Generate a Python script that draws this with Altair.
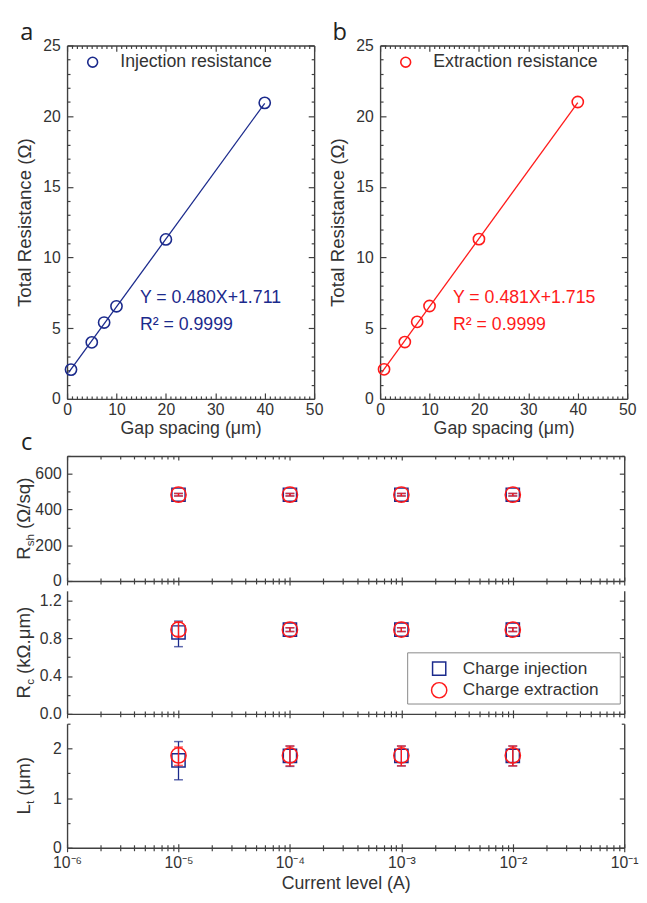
import altair as alt
import pandas as pd

# ---------------- data ----------------
gap_um = [0.8, 5, 7.5, 10, 20, 40]
inj_res = [2.07, 4.0, 5.4, 6.55, 11.28, 20.94]
ext_res = [2.09, 4.02, 5.45, 6.57, 11.3, 21.0]
fit_x = [0.3, 40]
fit_inj = [1.855, 20.911]
fit_ext = [1.859, 20.955]
fit_inj_text = ["Y = 0.480X+1.711", "R² = 0.9999"]
fit_ext_text = ["Y = 0.481X+1.715", "R² = 0.9999"]

current = [1e-5, 1e-4, 1e-3, 1e-2]
rsh_inj = [483, 483, 483, 483]
rsh_inj_lo = [476, 476, 476, 476]
rsh_inj_hi = [490, 490, 490, 490]
rsh_ext = [483, 483, 483, 483]
rsh_ext_lo = [476, 476, 476, 476]
rsh_ext_hi = [490, 490, 490, 490]

rc_inj = [0.86, 0.89, 0.89, 0.89]
rc_inj_lo = [0.71, 0.87, 0.87, 0.87]
rc_inj_hi = [0.98, 0.91, 0.91, 0.91]
rc_ext = [0.89, 0.89, 0.89, 0.89]
rc_ext_lo = [0.82, 0.87, 0.87, 0.87]
rc_ext_hi = [0.97, 0.91, 0.91, 0.91]

lt_inj = [1.76, 1.85, 1.85, 1.85]
lt_inj_lo = [1.37, 1.64, 1.65, 1.65]
lt_inj_hi = [2.14, 2.05, 2.05, 2.05]
lt_ext = [1.86, 1.86, 1.86, 1.86]
lt_ext_lo = [1.66, 1.65, 1.65, 1.65]
lt_ext_hi = [2.03, 2.05, 2.05, 2.05]

# ---------------- style ----------------
FONT = "Liberation Sans"
BLUE = "#1b2a8c"
RED = "#ff1a1a"
FRAME = "#404040"
LABEL = "#333333"

TOP_W, TOP_H = 251, 359
BOT_W = 566
BOT_H = [127, 125, 126]

CW = {"R": .722, "L": .556, "s": .5, "h": .556, "c": .5, "t": .278, " ": .278,
      "(": .333, ")": .333, "Ω": .768, "/": .278, "q": .556, "k": .5, ".": .278,
      "μ": .576, "m": .833}


def tw(s, size):
    return sum(CW.get(ch, .55) for ch in s) * size


def cond(test, big, small):
    return {"condition": {"test": test, "value": big}, "value": small}


def ax(**kw):
    base = dict(grid=False, domainColor=FRAME, domainWidth=1.4, tickColor=FRAME,
                tickWidth=1.2, labelFont=FONT, labelColor=LABEL, titleFont=FONT,
                titleColor=LABEL, titleFontWeight="normal", labelFlush=False,
                labelOverlap=False)
    base.update({k: v for k, v in kw.items() if v is not None or k == "title"})
    return alt.Axis(**base)


def frame_layers(df, xf, yf, xs, ys, W, H, xv, yv, xtest, ytest, xlab, ylab,
                 xtitle, ytitle, xlabels, top_line, out_ticks, tk, lab_size,
                 title_size, xlab_pad, ylab_pad, xtitle_pad, ytitle_pad,
                 yformat=None, xtk=None, xtitle_size=None):
    big, small = tk
    xbig, xsmall = xtk if xtk else tk
    base = alt.Chart(df).mark_point(opacity=0)
    l1 = base.encode(
        x=alt.X(f"{xf}:Q", scale=xs,
                axis=ax(orient="bottom", values=xv, labels=xlabels, labelExpr=xlab,
                        labelFontSize=lab_size, labelPadding=xlab_pad, title=xtitle,
                        titleFontSize=xtitle_size or title_size,
                        titlePadding=xtitle_pad, ticks=False, tickSize=0)),
        y=alt.Y(f"{yf}:Q", scale=ys,
                axis=ax(orient="left", values=yv, labelExpr=ylab, labelFontSize=lab_size,
                        labelPadding=ylab_pad, title=ytitle, titleFontSize=title_size,
                        titlePadding=ytitle_pad, ticks=False, tickSize=0,
                        format=yformat)))
    l2 = base.encode(
        x=alt.X(f"{xf}:Q", scale=xs,
                axis=ax(orient="top", offset=-H, values=xv, labels=False, domain=False,
                        title=None, tickSize=cond(xtest, xbig, xsmall))),
        y=alt.Y(f"{yf}:Q", scale=ys,
                axis=ax(orient="right", offset=-W, values=yv, labels=False, domain=False,
                        title=None, tickSize=cond(ytest, big, small))))
    if top_line:
        x3 = alt.X(f"{xf}:Q", scale=xs,
                   axis=ax(orient="bottom", offset=-H, values=xv, labels=False, domain=True,
                           title=None, tickSize=cond(xtest, xbig, xsmall)))
    else:
        x3 = alt.X(f"{xf}:Q", scale=xs, axis=None)
    l3 = base.encode(
        x=x3,
        y=alt.Y(f"{yf}:Q", scale=ys,
                axis=ax(orient="left", offset=-W, values=yv, labels=False, domain=True,
                        title=None, tickSize=cond(ytest, big, small))))
    layers = [l1, l2, l3]
    if out_ticks:
        l4 = base.encode(
            x=alt.X(f"{xf}:Q", scale=xs,
                    axis=ax(orient="bottom", values=xv, labels=False, domain=False,
                            title=None, tickSize=cond(xtest, xbig, xsmall))),
            y=alt.Y(f"{yf}:Q", scale=ys, axis=None))
        layers.append(l4)
    return layers


def txt(text, x, y, size, color=LABEL, align="left", baseline="middle", angle=0,
        font=FONT):
    return alt.Chart(pd.DataFrame({"t": [text]})).mark_text(
        align=align, baseline=baseline, fontSize=size, color=color, font=font,
        angle=angle).encode(x=alt.value(x), y=alt.value(y), text="t:N")


# ---------------- top panels ----------------
def top_panel(res, fit_y, fit_text, color, legend_label, letter):
    xs = alt.Scale(domain=[0, 50], nice=False, zero=False)
    ys = alt.Scale(domain=[0, 25], nice=False, zero=False)
    df = pd.DataFrame({"gap": gap_um, "r": res})
    dfit = pd.DataFrame({"gap": fit_x, "r": fit_y})
    layers = frame_layers(
        df, "gap", "r", xs, ys, TOP_W, TOP_H, list(range(0, 51)), list(range(0, 26)),
        "datum.value % 10 == 0", "datum.value % 5 == 0",
        "datum.value % 10 == 0 ? datum.label : ''",
        "datum.value % 5 == 0 ? datum.label : ''",
        "Gap spacing (μm)", "Total Resistance (Ω)", True, True, False, (6, 3),
        16, 19, 3, 7, 2, 8, xtitle_size=18)
    line = alt.Chart(dfit).mark_line(color=color, strokeWidth=1.3).encode(
        x=alt.X("gap:Q", scale=xs, axis=None), y=alt.Y("r:Q", scale=ys, axis=None))
    pts = alt.Chart(df).mark_point(shape="circle", filled=False, size=130,
                                   strokeWidth=1.6, color=color, opacity=1).encode(
        x=alt.X("gap:Q", scale=xs, axis=None), y=alt.Y("r:Q", scale=ys, axis=None))
    leg_sym = alt.Chart(pd.DataFrame({"t": [legend_label]})).mark_point(
        shape="circle", filled=False, size=100, strokeWidth=1.6, color=color,
        opacity=1).encode(x=alt.value(26), y=alt.value(17))
    leg_txt = txt(legend_label, 54, 17, 18)
    f1 = txt(fit_text[0], 74, 257, 18, color)
    f2 = txt(fit_text[1], 74, 284, 18, color)
    lab = txt(letter, -41, -13, 24, "#222222", align="center", font="Open Sans")
    return alt.layer(*layers, line, pts, leg_sym, leg_txt, f1, f2, lab).resolve_axis(
        x="independent", y="independent").properties(width=TOP_W, height=TOP_H)


panel_a = top_panel(inj_res, fit_inj, fit_inj_text, BLUE, "Injection resistance", "a")
panel_b = top_panel(ext_res, fit_ext, fit_ext_text, RED, "Extraction resistance", "b")

# ---------------- bottom panels ----------------
LOG_TEST = "abs(log(datum.value)/LN10 - round(log(datum.value)/LN10)) < 0.001"
LOG_LAB = ("abs(log(datum.value)/LN10 - round(log(datum.value)/LN10)) < 0.001 ? "
           "'10' + ['⁻⁶','⁻⁵','⁻⁴','⁻³','⁻²','⁻¹'][round(log(datum.value)/LN10) + 6] : ''")
log_vals = [m * 10.0 ** e for e in range(-6, -1) for m in range(1, 10)] + [0.1]


def rot_title(parts, x0, H):
    # parts: (text, font size, baseline shift, gap after)
    total = sum(tw(t, s) + g for t, s, _, g in parts)
    y = H / 2 + total / 2
    out = []
    for t, s, shift, g in parts:
        out.append(txt(t, x0 + shift, y, s, baseline="alphabetic", angle=270))
        y -= tw(t, s) + g
    return out


def bot_panel(idx, inj, inj_lo, inj_hi, ext, ext_lo, ext_hi, ydom, yv, ytest, ylab,
              title_parts, yformat=None, last=False, first=False, legend=False):
    H = BOT_H[idx]
    xs = alt.Scale(type="log", domain=[1e-6, 1e-1], nice=False)
    ys = alt.Scale(domain=ydom, nice=False, zero=False)
    dfi = pd.DataFrame({"cur": current, "v": inj, "lo": inj_lo, "hi": inj_hi})
    dfe = pd.DataFrame({"cur": current, "v": ext, "lo": ext_lo, "hi": ext_hi})
    layers = frame_layers(
        dfi, "cur", "v", xs, ys, BOT_W, H, log_vals, yv, LOG_TEST, ytest,
        LOG_LAB if last else None, ylab, "Current level (A)" if last else None, None,
        last, first, True, (5, 3), 16, 18, 7, 6, 4, 0, yformat=yformat, xtk=(4, 3),
        xtitle_size=18)
    X = alt.X("cur:Q", scale=xs, axis=None)

    def series(df, color, shape, size):
        rule = alt.Chart(df).mark_rule(color=color, strokeWidth=1.3).encode(
            x=X, y=alt.Y("lo:Q", scale=ys, axis=None), y2="hi:Q")
        caps = alt.Chart(df).transform_fold(["lo", "hi"], as_=["k", "e"]).mark_tick(
            orient="horizontal", size=9, thickness=1.5, color=color).encode(
            x=X, y=alt.Y("e:Q", scale=ys, axis=None))
        pts = alt.Chart(df).mark_point(shape=shape, filled=False, size=size,
                                       strokeWidth=1.5, color=color, opacity=1).encode(
            x=X, y=alt.Y("v:Q", scale=ys, axis=None))
        return [rule, caps, pts]

    marks = series(dfi, BLUE, "square", 180) + series(dfe, RED, "circle", 240)
    extra = rot_title(title_parts, -38, H)
    if first:
        extra.append(txt("c", -41, -13, 24, "#222222", align="center", font="Open Sans"))
    if legend:
        box = alt.Chart(pd.DataFrame({"t": ["legend"]})).mark_rect(
            fill="white", stroke="#888888", strokeWidth=1).encode(
            x=alt.value(346), x2=alt.value(562), y=alt.value(63), y2=alt.value(115))
        s1 = alt.Chart(pd.DataFrame({"t": ["Charge injection"]})).mark_point(
            shape="square", filled=False, size=180, strokeWidth=1.5, color=BLUE,
            opacity=1).encode(x=alt.value(378), y=alt.value(79))
        s2 = alt.Chart(pd.DataFrame({"t": ["Charge extraction"]})).mark_point(
            shape="circle", filled=False, size=240, strokeWidth=1.5, color=RED,
            opacity=1).encode(x=alt.value(378), y=alt.value(101))
        t1 = txt("Charge injection", 402, 79, 17.5)
        t2 = txt("Charge extraction", 402, 101, 17.5)
        extra += [box, s1, s2, t1, t2]
    return alt.layer(*layers, *marks, *extra).resolve_axis(
        x="independent", y="independent").properties(width=BOT_W, height=H)


c1 = bot_panel(0, rsh_inj, rsh_inj_lo, rsh_inj_hi, rsh_ext, rsh_ext_lo, rsh_ext_hi,
               [0, 700], list(range(0, 701, 100)), "datum.value % 200 == 0",
               "datum.value % 200 == 0 ? datum.label : ''",
               [("R", 19, 0, 0), ("sh", 12, 4, 5), ("(Ω/sq)", 19, 0, 0)], first=True)
c2 = bot_panel(1, rc_inj, rc_inj_lo, rc_inj_hi, rc_ext, rc_ext_lo, rc_ext_hi,
               [0, 1.3], [0, 0.2, 0.4, 0.6, 0.8, 1.0, 1.2],
               "round(datum.value*10) % 4 == 0",
               "round(datum.value*10) % 4 == 0 ? datum.label : ''",
               [("R", 19, 0, 0), ("c", 12, 4, 5), ("(kΩ.μm)", 19, 0, 0)],
               yformat=".1f", legend=True)
c3 = bot_panel(2, lt_inj, lt_inj_lo, lt_inj_hi, lt_ext, lt_ext_lo, lt_ext_hi,
               [0, 2.5], [0, 0.5, 1, 1.5, 2, 2.5], "datum.value % 1 == 0",
               "datum.value % 1 == 0 ? datum.label : ''",
               [("L", 19, 0, 0), ("t", 12, 4, 5), ("(μm)", 19, 0, 0)],
               yformat="d", last=True)

row1 = alt.hconcat(panel_a, panel_b, spacing=67, bounds="flush")
row2 = alt.vconcat(c1, c2, c3, spacing=10, bounds="flush")

chart = alt.vconcat(row1, row2, spacing=-6).properties(
    padding={"left": 6, "top": 6, "right": 0, "bottom": 0},
    background="white").configure_view(stroke=None)

chart.save("out.html", embed_options={"renderer": "svg", "actions": False})
